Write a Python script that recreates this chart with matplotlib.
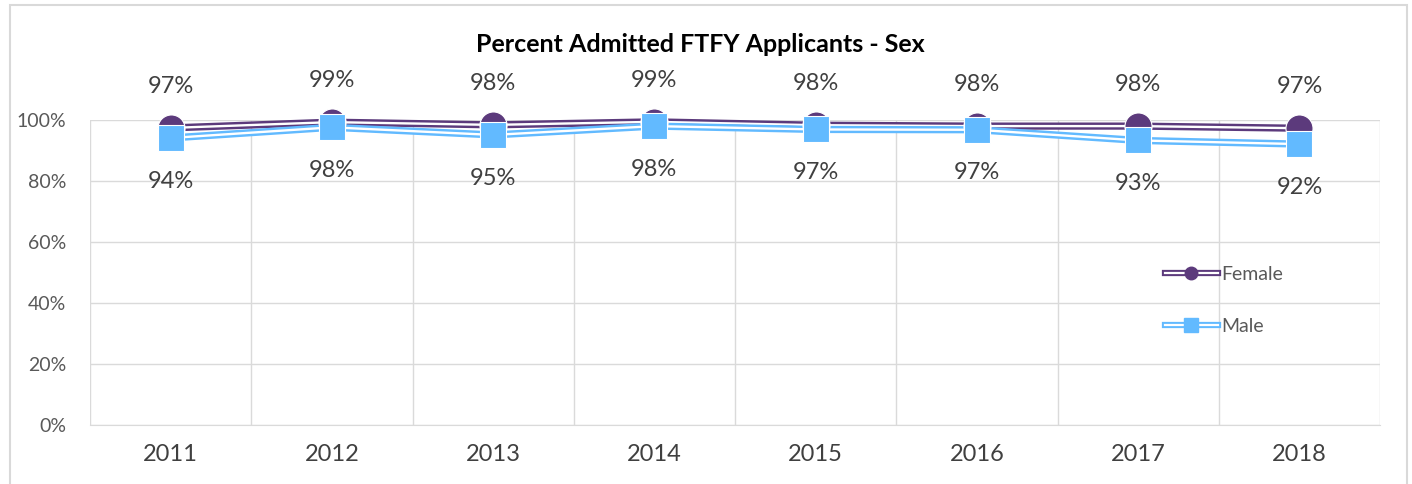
import numpy as np
import matplotlib.pyplot as plt
from matplotlib.lines import Line2D
from matplotlib.patches import Rectangle
from matplotlib.legend_handler import HandlerTuple

plt.rcParams['font.family'] = ['Lato', 'DejaVu Sans']

# data
years = ['2011', '2012', '2013', '2014', '2015', '2016', '2017', '2018']
female = [0.974, 0.993, 0.984, 0.994, 0.983, 0.980, 0.980, 0.973]
male = [0.941, 0.976, 0.951, 0.980, 0.969, 0.968, 0.933, 0.921]
y_ticks = [0, 0.2, 0.4, 0.6, 0.8, 1.0]

c_fem = '#5C3A7C'
c_male = '#62BAFF'
txt = '#404040'
grid = '#DADADA'

fig = plt.figure(figsize=(14.12, 4.84), dpi=100)
ax = fig.add_axes([90/1412, 59/484, 1290/1412, 305/484])

x = np.arange(len(years))

def double_line(vals, color, marker, ms):
	ax.plot(x, vals, color=color, lw=5.2, solid_capstyle='butt', zorder=3, clip_on=False)
	ax.plot(x, vals, color='white', lw=1.7, solid_capstyle='butt', zorder=3, clip_on=False)
	ax.plot(x, vals, ls='none', marker=marker, ms=ms, color=color,
			markeredgecolor='white', mew=0.8, zorder=4, clip_on=False)

double_line(female, c_fem, 'o', 19.5)
double_line(male, c_male, 's', 19)

for i in range(len(years)):
	ax.annotate(f'{round(female[i]*100)}%', (x[i], female[i]), xytext=(0, 30),
				textcoords='offset points', ha='center', va='center',
				fontsize=17, color=txt)
	ax.annotate(f'{round(male[i]*100)}%', (x[i], male[i]), xytext=(0, -31),
				textcoords='offset points', ha='center', va='center',
				fontsize=17, color=txt)

ax.set_xlim(-0.5, len(years) - 0.5)
ax.set_ylim(0, 1)
ax.set_xticks(x)
ax.set_xticklabels(years, fontsize=17, color=txt)
ax.set_yticks(y_ticks)
ax.set_yticklabels([f'{int(v*100)}%' for v in y_ticks], fontsize=14, color='#595959')
ax.tick_params(length=0)
ax.tick_params(axis='x', pad=14)
ax.tick_params(axis='y', pad=17)

ax.set_xticks(np.arange(-0.5, len(years)), minor=True)
ax.tick_params(which='minor', length=0)
ax.grid(True, which='minor', axis='x', color=grid, lw=1)
ax.grid(True, which='major', axis='y', color=grid, lw=1)
ax.set_axisbelow(True)
for s in ['top', 'right', 'left']:
	ax.spines[s].set_visible(False)
ax.spines['bottom'].set_color(grid)

fig.text(700/1412, 1 - 45/484, 'Percent Admitted FTFY Applicants - Sex',
		 ha='center', va='center', fontsize=18, fontweight='bold', color='black')

# legend with double line handles
def handle(color, marker, ms):
	return (Line2D([], [], color=color, lw=4.5),
			Line2D([], [], color='white', lw=1.6),
			Line2D([], [], ls='none', marker=marker, ms=ms, color=color))

leg = fig.legend([handle(c_fem, 'o', 9), handle(c_male, 's', 10)], ['Female', 'Male'],
				 handler_map={tuple: HandlerTuple(ndivide=1, pad=0)},
				 loc='center left', bbox_to_anchor=(1165/1412, 1 - 300/484),
				 frameon=False, fontsize=14, labelcolor='#595959',
				 handlelength=2.7, handletextpad=0.2, labelspacing=1.8,
				 borderpad=0, borderaxespad=0)

fig.patches.append(Rectangle((10/1412, -0.1), 1397/1412, 1.1 - 5/484,
							 transform=fig.transFigure, fill=False,
							 edgecolor='#D9D9D9', lw=1.5))

fig.savefig('out.png', dpi=100)
